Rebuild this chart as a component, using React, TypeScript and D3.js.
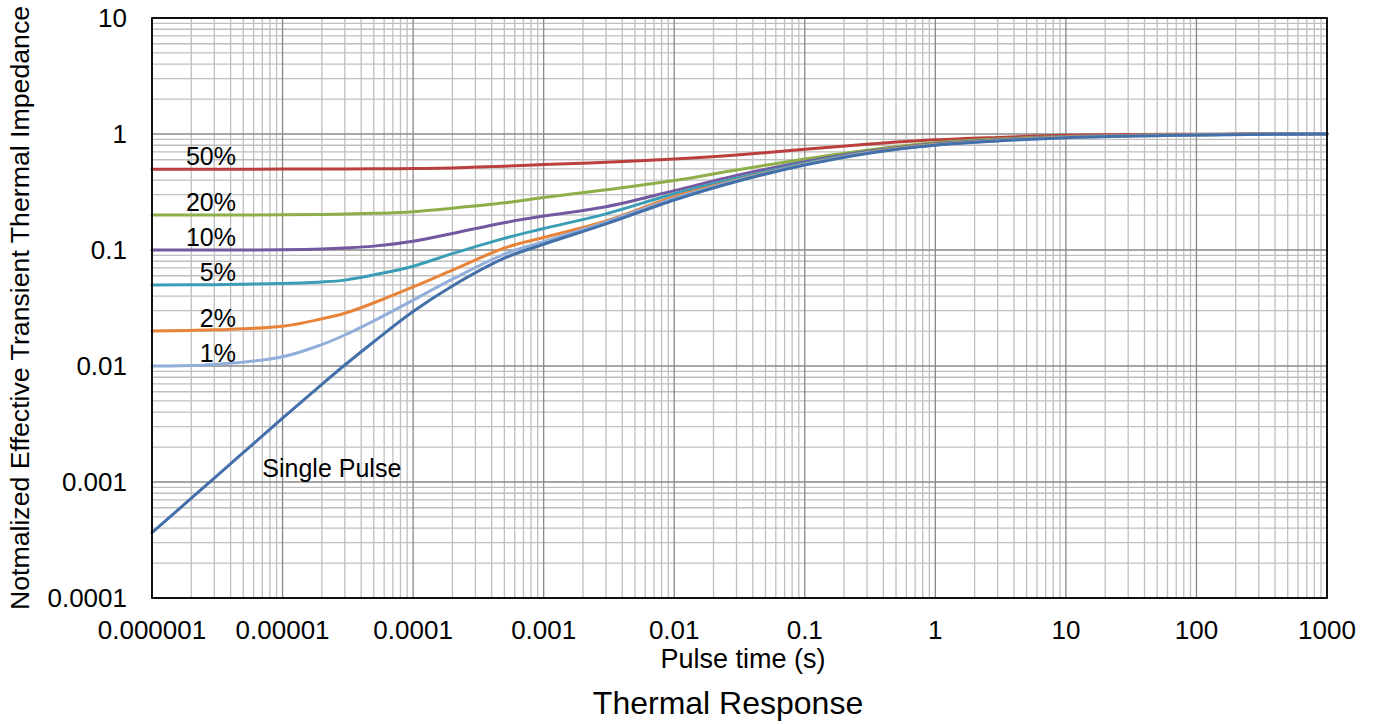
import React from "react";
import * as d3 from "d3";

const times = [1e-6, 3e-6, 1e-5, 2e-5, 3e-5, 5e-5, 1e-4, 2e-4, 5e-4, 1e-3, 3e-3, 1e-2, 3e-2, 0.1, 0.3, 1, 3, 10, 100, 1000];

const singlePulse = [3.66e-4, 1.08e-3, 3.55e-3, 0.00695, 0.0102, 0.0162, 0.0295, 0.049, 0.085, 0.112, 0.168, 0.27, 0.39, 0.54, 0.68, 0.8, 0.87, 0.93, 0.98, 1.0];
const duty1 = [0.01, 0.0103, 0.012, 0.0153, 0.0185, 0.0245, 0.037, 0.056, 0.092, 0.118, 0.174, 0.278, 0.395, 0.545, 0.685, 0.805, 0.875, 0.935, 0.98, 1.0];
const duty2 = [0.02, 0.0205, 0.022, 0.0255, 0.0285, 0.035, 0.048, 0.067, 0.104, 0.128, 0.178, 0.288, 0.4, 0.55, 0.69, 0.81, 0.88, 0.94, 0.985, 1.0];
const duty5 = [0.05, 0.0502, 0.0515, 0.053, 0.055, 0.061, 0.0725, 0.093, 0.126, 0.153, 0.205, 0.305, 0.415, 0.56, 0.695, 0.815, 0.885, 0.94, 0.985, 1.0];
const duty10 = [0.1, 0.1, 0.1005, 0.102, 0.104, 0.108, 0.119, 0.139, 0.172, 0.196, 0.236, 0.325, 0.44, 0.576, 0.705, 0.825, 0.89, 0.945, 0.985, 1.0];
const duty20 = [0.2, 0.2, 0.201, 0.202, 0.204, 0.207, 0.214, 0.229, 0.255, 0.284, 0.33, 0.397, 0.49, 0.608, 0.725, 0.84, 0.905, 0.95, 0.99, 1.0];
const duty50 = [0.497, 0.497, 0.498, 0.499, 0.5, 0.501, 0.503, 0.51, 0.528, 0.545, 0.57, 0.61, 0.66, 0.738, 0.815, 0.89, 0.935, 0.975, 0.995, 1.0];

const seriesNames = ["50%", "20%", "10%", "5%", "2%", "1%", "Single Pulse"];
const seriesValues = [duty50, duty20, duty10, duty5, duty2, duty1, singlePulse];
const seriesColors = ["#B9403D", "#8CAF4A", "#7458A0", "#3A9DB5", "#E8843A", "#92AEDB", "#4470AA"];

const xTickLabels = ["0.000001", "0.00001", "0.0001", "0.001", "0.01", "0.1", "1", "10", "100", "1000"];
const yTickLabels = ["0.0001", "0.001", "0.01", "0.1", "1", "10"];

const xTitle = "Pulse time (s)";
const yTitle = "Notmalized Effective Transient Thermal Impedance";
const chartTitle = "Thermal Response";

const W = 1375;
const H = 724;
const plot = { left: 152, right: 1327, top: 18, bottom: 598 };
const FONT = "Arial, 'Liberation Sans', sans-serif";

export default function App() {
  const x = d3.scaleLog().domain([1e-6, 1000]).range([plot.left, plot.right]);
  const y = d3.scaleLog().domain([1e-4, 10]).range([plot.bottom, plot.top]);

  const xMajor = xTickLabels.map((s) => +s);
  const yMajor = yTickLabels.map((s) => +s);
  const xMinor: number[] = [];
  xMajor.slice(0, -1).forEach((m) => {
    for (let k = 2; k <= 9; k++) xMinor.push(m * k);
  });
  const yMinor: number[] = [];
  yMajor.slice(0, -1).forEach((m) => {
    for (let k = 2; k <= 9; k++) yMinor.push(m * k);
  });

  const line = d3
    .line<number>()
    .x((_, i) => x(times[i]))
    .y((d) => y(d))
    .curve(d3.curveCatmullRom.alpha(0.5));

  const labelT = 4.4e-6;

  return (
    <div style={{ position: "absolute", left: 0, top: 0 }}>
      <svg width={W} height={H} style={{ display: "block", background: "#fff" }} fontFamily={FONT}>
        {/* minor grid */}
        <g stroke="#BFBFBF" strokeWidth={1.3}>
          {xMinor.map((v, i) => (
            <line key={"xm" + i} x1={x(v)} x2={x(v)} y1={plot.top} y2={plot.bottom} />
          ))}
          {yMinor.map((v, i) => (
            <line key={"ym" + i} x1={plot.left} x2={plot.right} y1={y(v)} y2={y(v)} />
          ))}
        </g>
        {/* major grid */}
        <g stroke="#888888" strokeWidth={1.3}>
          {xMajor.map((v, i) => (
            <line key={"xM" + i} x1={x(v)} x2={x(v)} y1={plot.top} y2={plot.bottom} />
          ))}
          {yMajor.map((v, i) => (
            <line key={"yM" + i} x1={plot.left} x2={plot.right} y1={y(v)} y2={y(v)} />
          ))}
        </g>
        {/* series */}
        <g fill="none" strokeWidth={3} strokeLinejoin="round" strokeLinecap="round">
          {seriesValues.map((vals, i) => (
            <path key={"s" + i} d={line(vals) || ""} stroke={seriesColors[i]} />
          ))}
        </g>
        {/* border */}
        <rect x={plot.left} y={plot.top} width={plot.right - plot.left} height={plot.bottom - plot.top} fill="none" stroke="#000" strokeWidth={1.8} />
        {/* series labels */}
        <g fontSize={25} fill="#000">
          {seriesNames.slice(0, 6).map((n, i) => (
            <text key={"l" + i} x={x(labelT)} y={y(seriesValues[i][0]) - 4} textAnchor="end">
              {n}
            </text>
          ))}
          <text x={x(7e-6)} y={477}>
            {seriesNames[6]}
          </text>
        </g>
        {/* tick labels */}
        <g fontSize={26} fill="#000">
          {xTickLabels.map((s, i) => (
            <text key={"xt" + i} x={x(xMajor[i])} y={639} textAnchor="middle">
              {s}
            </text>
          ))}
          {yTickLabels.map((s, i) => (
            <text key={"yt" + i} x={127} y={y(yMajor[i])} textAnchor="end" dominantBaseline="central">
              {s}
            </text>
          ))}
        </g>
        <text x={743} y={668} fontSize={27} textAnchor="middle">
          {xTitle}
        </text>
        <text x={728} y={714} fontSize={32} textAnchor="middle">
          {chartTitle}
        </text>
        <text transform={`translate(29, 308) rotate(-90)`} fontSize={26.7} textAnchor="middle">
          {yTitle}
        </text>
      </svg>
    </div>
  );
}
